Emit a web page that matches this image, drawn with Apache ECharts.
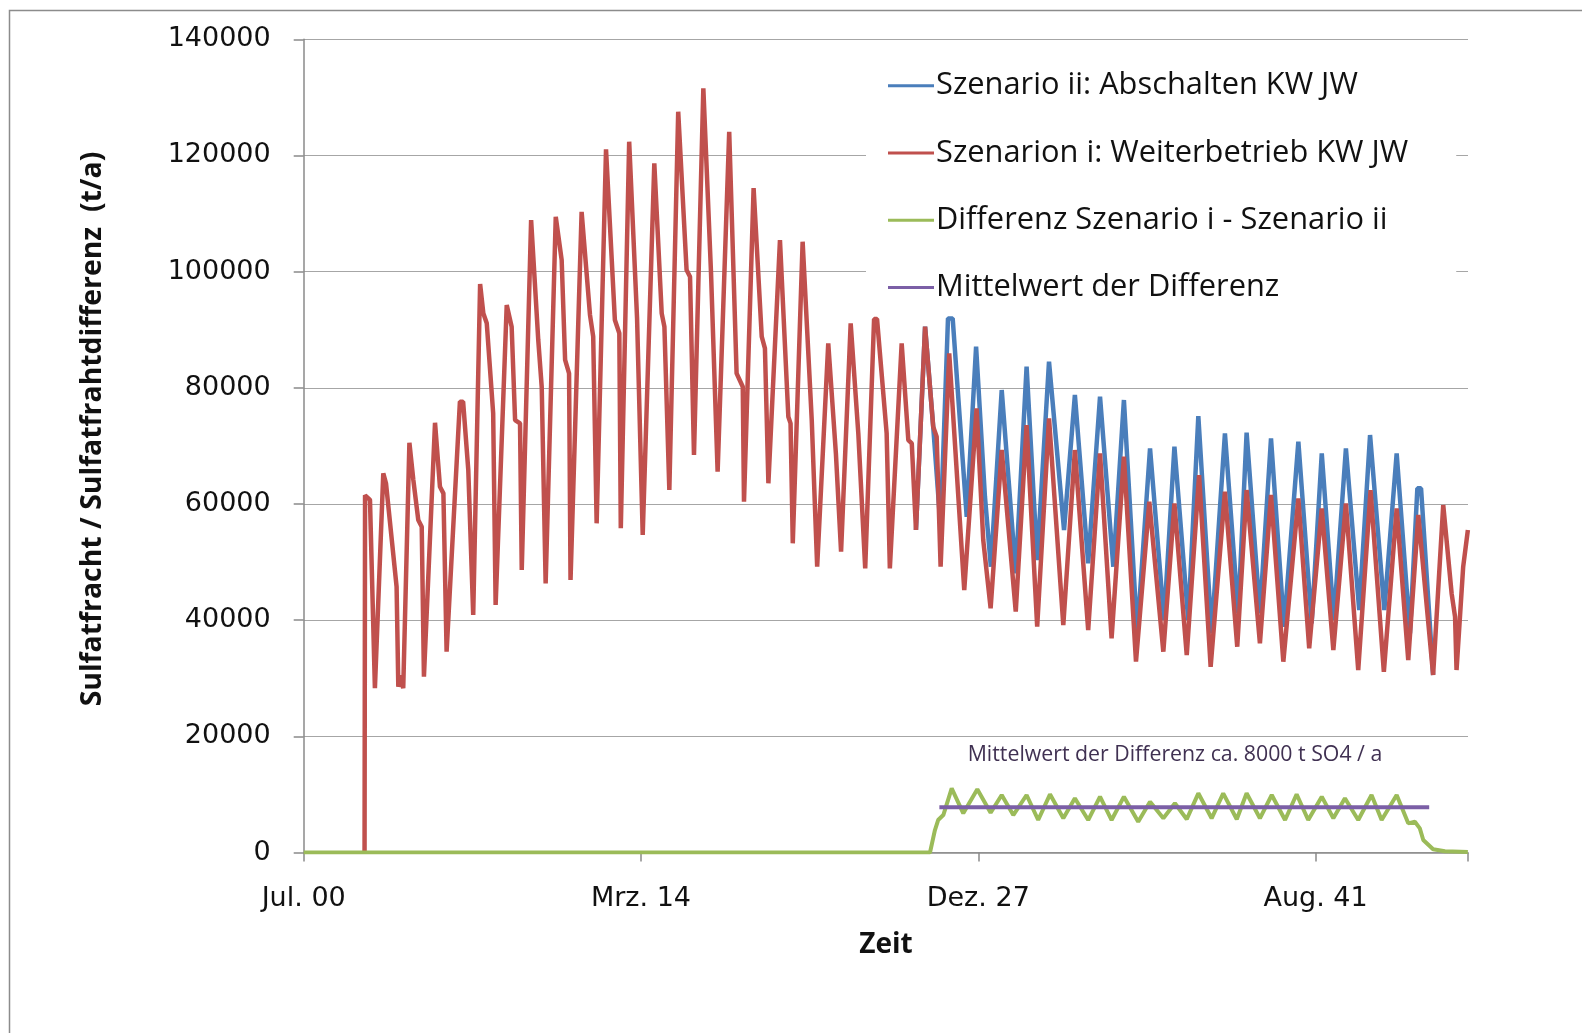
<!DOCTYPE html>
<html><head><meta charset="utf-8">
<script src="https://cdn.jsdelivr.net/npm/echarts@6/dist/echarts.min.js"></script>
<style>html,body{margin:0;padding:0;background:#fff}#c{width:1582px;height:1033px}</style>
</head><body><div id="c"></div>
<script>
// x tick labels (every 5000 days starting Jul 2000)
const xTickLabels = ["Jul. 00", "Mrz. 14", "Dez. 27", "Aug. 41"];
const seriesNames = ["Szenario ii: Abschalten KW JW", "Szenarion i: Weiterbetrieb KW JW", "Differenz Szenario i - Szenario ii", "Mittelwert der Differenz"];

// Szenario i (red): time in decimal years, values in t/a
const redT = [2002.97,2002.99,2003.19,2003.39,2003.73,2003.84,2004.27,2004.34,2004.43,2004.54,2004.79,2004.95,2005.15,2005.29,2005.38,
  2005.83,2006.03,2006.17,2006.30,2006.84,2006.97,2007.18,2007.38,2007.66,2007.79,2007.93,2008.19,2008.29,2008.74,2008.94,2009.08,2009.28,2009.35,
  2009.73,2010.02,2010.16,2010.32,2010.73,2010.97,2011.11,2011.27,2011.33,2011.78,2012.12,2012.25,2012.39,2012.77,2013.13,2013.31,2013.37,
  2013.71,2014.03,2014.26,2014.73,2015.03,2015.14,2015.34,2015.70,2016.04,2016.18,2016.34,2016.72,2017.03,2017.30,2017.77,2018.07,2018.32,2018.37,
  2018.76,2019.09,2019.22,2019.36,2019.83,2020.17,2020.26,2020.35,2020.75,2021.12,2021.34,2021.79,2022.10,2022.31,2022.70,2023.01,2023.29,
  2023.65,2023.77,2024.16,2024.29,2024.77,2025.04,2025.18,2025.35,2025.72,2026.05,2026.19,2026.35,2026.70,2027.31,2027.81,2028.08,2028.38,
  2028.83,2029.40,2029.84,2030.27,2030.75,2031.33,2031.80,2032.34,2032.82,2033.29,2033.79,2034.28,2034.82,2035.39,2035.84,2036.34,2036.84,
  2037.31,2037.89,2038.39,2038.77,2039.31,2039.76,2040.26,2040.87,2041.31,2041.82,2042.29,2042.80,2043.30,2043.80,2044.34,2044.86,2045.33,
  2045.74,2046.34,2046.75,2047.09,2047.23,2047.29,2047.56,2047.75];
const redV = [0,61500,60700,28300,65270,63560,45760,28540,30500,28270,70550,64120,57240,56090,30260,
  73990,62970,61830,34570,77610,77610,65850,40880,97870,92820,91100,75610,42610,94250,90520,74450,73880,48630,
  108880,88230,80180,46340,109450,102000,84800,82490,46910,110300,92530,88800,56670,121050,91670,89380,55810,
  122370,92000,54660,118640,92820,90520,62400,127530,100280,99130,68430,131550,100000,65550,124060,82490,80180,60390,
  114400,88800,86800,63560,105440,75020,73880,53230,105150,74450,49200,87660,68720,51790,91100,72160,48920,
  91840,91840,72160,48920,87660,71010,70440,55520,90520,73300,71580,49200,85930,45190,76460,53800,42040,
  69290,41460,73590,38870,74740,39160,69290,38300,68720,36870,68140,32850,60390,34570,60110,34000,64980,
  31980,62110,35430,62400,36010,61540,32850,60970,35140,59250,34860,60110,31420,62400,31120,59250,33140,
  58100,30560,59820,44620,40590,31420,49200,55520];

// Szenario ii (blue): identical to red before the split, drawn underneath
const blueT = [2025.35,2025.72,2026.05,2026.35,2026.65,2026.84,2027.41,2027.79,2028.15,2028.39,2028.83,2029.40,2029.84,2030.27,2030.75,
  2031.36,2031.80,2032.34,2032.82,2033.36,2033.79,2034.33,2034.85,2035.42,2035.84,2036.40,2036.81,2037.35,2037.89,2038.43,2038.77,
  2039.31,2039.76,2040.29,2040.87,2041.41,2041.82,2042.31,2042.80,2043.34,2043.78,2044.36,2044.86,2045.40,2045.70,2045.85,2046.34];
const blueV = [55520,90520,73300,56000,91950,91950,57800,87080,61240,49200,79620,48060,83630,50350,84490,
  55520,78760,49780,78470,49200,77900,37730,69580,40020,69860,40020,75140,37730,72160,41170,72270,
  41170,71300,38870,70720,39450,68720,40020,69580,41750,71870,41750,68720,37730,62690,62690,30560];

// Difference (green)
const diffT = [2000.50,2025.92,2026.12,2026.25,2026.46,2026.80,2027.27,2027.84,2028.38,2028.83,2029.30,2029.84,2030.31,2030.79,2031.33,
  2031.80,2032.34,2032.82,2033.29,2033.79,2034.37,2034.85,2035.39,2035.86,2036.34,2036.81,2037.35,2037.82,2038.37,2038.77,2039.31,
  2039.79,2040.33,2040.80,2041.27,2041.82,2042.29,2042.76,2043.30,2043.84,2044.25,2044.86,2045.33,2045.60,2045.80,2045.94,2046.34,
  2046.82,2047.75];
const diffV = [0,0,3870,5590,6450,11050,6750,10880,6850,9900,6450,9900,5590,10020,5890,
  9330,5590,9610,5590,9610,5300,8750,5890,8470,5720,10190,5890,10190,5720,10190,5890,
  9900,5590,10020,5590,9610,5890,9330,5590,9900,5590,9900,5020,5300,4160,2150,550,
  200,100];

// Mean of the difference (purple)
const meanT = [2026.30, 2046.18];
const meanV = [7800, 7800];

const annotation = "Mittelwert der Differenz ca. 8000 t SO4 / a";

const toDay = y => (y - 2000.5) * 365.25;
const pairs = (t, v) => t.map((x, i) => [toDay(x), v[i]]);

const sansC = "'Open Sans', 'Noto Sans', sans-serif";
const sansV = "'DejaVu Sans', Verdana, sans-serif";

const chart = echarts.init(document.getElementById('c'), null, {renderer: 'canvas'});
chart.setOption({
  animation: false,
  backgroundColor: '#fff',
  grid: {left: 303.7, right: 114, top: 39.3, bottom: 180.5, containLabel: false},
  xAxis: {
    type: 'value', min: 0, max: 17260, interval: 5000,
    axisLine: {lineStyle: {color: '#8a8a8a', width: 1.5}},
    axisTick: {show: true, length: 9, lineStyle: {color: '#8a8a8a', width: 1.5}},
    splitLine: {show: false},
    axisLabel: {
      margin: 31, fontFamily: sansV, fontSize: 27, color: '#111', lineHeight: 30,
      formatter: v => (v % 5000 === 0 ? (xTickLabels[v / 5000] || '') : '')
    }
  },
  yAxis: {
    type: 'value', min: 0, max: 140000, interval: 20000,
    axisLine: {show: true, lineStyle: {color: '#8a8a8a', width: 1.5}},
    axisTick: {show: true, length: 10, lineStyle: {color: '#8a8a8a', width: 1.5}},
    splitLine: {lineStyle: {color: '#a6a6a6', width: 1.2}},
    axisLabel: {margin: 33, fontFamily: sansV, fontSize: 27, color: '#111', formatter: v => String(v)}
  },
  legend: {
    orient: 'vertical', left: 866, top: 50,
    padding: [18.7, 48, 4, 22],
    backgroundColor: '#fff',
    icon: 'rect',
    itemWidth: 46, itemHeight: 3, itemGap: 33.3,
    textStyle: {fontFamily: sansC, fontSize: 30.8, color: '#111', lineHeight: 34, padding: [0, 0, 0, -3]},
    data: [seriesNames[0], seriesNames[1], seriesNames[2], seriesNames[3]],
    z: 5
  },
  series: [
    {name: seriesNames[0], type: 'line', data: pairs(blueT, blueV), symbol: 'none', smooth: false,
      lineStyle: {color: '#4a7ebb', width: 4.5}, itemStyle: {color: '#4a7ebb'}, z: 2},
    {name: seriesNames[1], type: 'line', data: pairs(redT, redV), symbol: 'none',
      lineStyle: {color: '#c0504d', width: 4.5}, itemStyle: {color: '#c0504d'}, z: 3},
    {name: seriesNames[2], type: 'line', data: pairs(diffT, diffV), symbol: 'none',
      lineStyle: {color: '#9bbb59', width: 4}, itemStyle: {color: '#9bbb59'}, z: 4},
    {name: seriesNames[3], type: 'line', data: pairs(meanT, meanV), symbol: 'none',
      lineStyle: {color: '#7b5fa6', width: 4}, itemStyle: {color: '#7b5fa6'}, z: 5}
  ],
  graphic: [
    {type: 'rect', left: 7, top: 8, silent: true, z: -1,
      shape: {width: 1700, height: 1200}, style: {fill: 'none', stroke: '#8c8c8c', lineWidth: 1.5}},
    {type: 'text', x: 93, y: 429, rotation: Math.PI / 2, silent: true,
      style: {text: 'Sulfatfracht / Sulfatfrahtdifferenz  (t/a)', fontFamily: sansC, fontWeight: 'bold',
        fontSize: 28.4, fill: '#111', textAlign: 'center', textVerticalAlign: 'middle'}},
    {type: 'text', x: 886, y: 945, silent: true,
      style: {text: 'Zeit', fontFamily: sansC, fontWeight: 'bold', fontSize: 28, fill: '#111',
        textAlign: 'center', textVerticalAlign: 'middle'}},
    {type: 'text', x: 1175, y: 755, silent: true,
      style: {text: annotation, fontFamily: sansC, fontSize: 21.3, fill: '#403152',
        textAlign: 'center', textVerticalAlign: 'middle'}}
  ]
});
</script></body></html>
